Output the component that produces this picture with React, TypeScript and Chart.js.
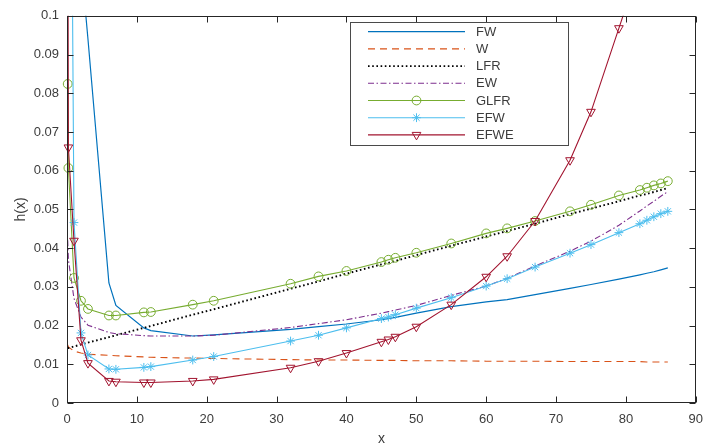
import React, { useEffect, useRef } from "react";
import { Chart, registerables } from "chart.js";

Chart.register(...registerables);

// ---- data ----
const xValues = [0.1, 0.2, 1, 2, 3, 6, 7, 11, 12, 18, 21, 32, 36, 40, 45, 46, 47, 50, 55, 60, 63, 67, 72, 75, 79, 82, 83, 84, 85, 86];

const fwValues = [0.8, 0.5, 0.2, 0.114, 0.094, 0.031, 0.0252, 0.0194, 0.0187, 0.0173, 0.0176, 0.019, 0.0197, 0.0204, 0.0215, 0.0218, 0.0221, 0.0232, 0.0249, 0.0261, 0.0267, 0.028, 0.0296, 0.0306, 0.032, 0.0331, 0.0335, 0.0339, 0.0344, 0.0349];

const wValues = [0.015, 0.0145, 0.0134, 0.0129, 0.0126, 0.0123, 0.0122, 0.0119, 0.0118, 0.0116, 0.0115, 0.0112, 0.0111, 0.0111, 0.011, 0.011, 0.011, 0.0109, 0.0109, 0.0108, 0.0108, 0.0108, 0.0107, 0.0107, 0.0107, 0.0107, 0.0106, 0.0106, 0.0106, 0.0106];

const lfrValues = [0.0142, 0.0142, 0.0146, 0.0151, 0.0156, 0.017, 0.0175, 0.0194, 0.0199, 0.0228, 0.0242, 0.0295, 0.0314, 0.0334, 0.0358, 0.0362, 0.0367, 0.0382, 0.0406, 0.043, 0.0444, 0.0463, 0.0488, 0.0502, 0.0521, 0.0536, 0.054, 0.0545, 0.055, 0.0555];

const ewValues = [0.042, 0.037, 0.027, 0.0222, 0.0201, 0.0182, 0.0179, 0.0174, 0.0173, 0.0173, 0.0175, 0.0195, 0.0205, 0.0215, 0.0232, 0.0236, 0.024, 0.0252, 0.0278, 0.0302, 0.0322, 0.0354, 0.0392, 0.0418, 0.0459, 0.0496, 0.0509, 0.0521, 0.0534, 0.0546];

const glfrValues = [0.0824, 0.0607, 0.0323, 0.0264, 0.0243, 0.0226, 0.0226, 0.0234, 0.0235, 0.0254, 0.0264, 0.0308, 0.0327, 0.0341, 0.0364, 0.037, 0.0375, 0.0388, 0.0412, 0.0438, 0.0451, 0.047, 0.0495, 0.0512, 0.0536, 0.055, 0.0556, 0.0562, 0.0567, 0.0573];

const efwValues = [0.4, 0.26, 0.0466, 0.0181, 0.0124, 0.0088, 0.0087, 0.0092, 0.0094, 0.0111, 0.012, 0.016, 0.0175, 0.0194, 0.0218, 0.0222, 0.0228, 0.0245, 0.0272, 0.0302, 0.0321, 0.0351, 0.0387, 0.0409, 0.044, 0.0463, 0.0472, 0.0481, 0.0489, 0.0495];

const efweValues = [0.15, 0.066, 0.0419, 0.0162, 0.0103, 0.0057, 0.0055, 0.0053, 0.0053, 0.0057, 0.0061, 0.0091, 0.0108, 0.0129, 0.0158, 0.0164, 0.0171, 0.0197, 0.0254, 0.0326, 0.0379, 0.047, 0.0627, 0.0752, 0.0968, 0.113, 0.12, 0.128, 0.136, 0.145];

const seriesLabels = ["FW", "W", "LFR", "EW", "GLFR", "EFW", "EFWE"];

const xTicks = [0, 10, 20, 30, 40, 50, 60, 70, 80, 90];
const yTicks = [0, 0.01, 0.02, 0.03, 0.04, 0.05, 0.06, 0.07, 0.08, 0.09, 0.1];

const xTitle = "x";
const yTitle = "h(x)";

// ---- styling ----
const FONT = "'Liberation Sans', Arial, Helvetica, sans-serif";
const AXIS_COLOR = "#262626";
const TEXT_COLOR = "#3c3c3c";

type Style = {
  color: string;
  dash: number[];
  width: number;
  marker: false | "circle" | "star" | "triangle";
  radius: number;
};

const styles: Style[] = [
  { color: "#0072BD", dash: [], width: 1.2, marker: false, radius: 0 },
  { color: "#D95319", dash: [7, 5], width: 1.1, marker: false, radius: 0 },
  { color: "#000000", dash: [1.6, 2.6], width: 1.9, marker: false, radius: 0 },
  { color: "#7E2F8E", dash: [6, 2.5, 1.5, 2.5], width: 1.1, marker: false, radius: 0 },
  { color: "#77AC30", dash: [], width: 1.1, marker: "circle", radius: 4.4 },
  { color: "#4DBEEE", dash: [], width: 1.1, marker: "star", radius: 4.4 },
  { color: "#A2142F", dash: [], width: 1.1, marker: "triangle", radius: 5 },
];

const allValues = [fwValues, wValues, lfrValues, ewValues, glfrValues, efwValues, efweValues];

function drawMarker(ctx: CanvasRenderingContext2D, style: string, x: number, y: number, r: number) {
  ctx.beginPath();
  if (style === "circle") {
    ctx.arc(x, y, r, 0, Math.PI * 2);
  } else if (style === "triangle") {
    let rad = Math.PI;
    ctx.moveTo(x + Math.sin(rad) * r, y - Math.cos(rad) * r);
    rad += (2 * Math.PI) / 3;
    ctx.lineTo(x + Math.sin(rad) * r, y - Math.cos(rad) * r);
    rad += (2 * Math.PI) / 3;
    ctx.lineTo(x + Math.sin(rad) * r, y - Math.cos(rad) * r);
    ctx.closePath();
  } else if (style === "star") {
    for (let k = 0; k < 4; k++) {
      const a = (k * Math.PI) / 4;
      ctx.moveTo(x - Math.cos(a) * r, y - Math.sin(a) * r);
      ctx.lineTo(x + Math.cos(a) * r, y + Math.sin(a) * r);
    }
  }
  ctx.stroke();
}

const framePlugin = {
  id: "matlabFrame",
  afterDatasetsDraw(chart: any) {
    const { ctx, chartArea: a, scales } = chart;
    ctx.save();
    ctx.strokeStyle = AXIS_COLOR;
    ctx.lineWidth = 1;
    ctx.setLineDash([]);
    const L = Math.round(a.left) + 0.5;
    const R = Math.round(a.right) - 0.5;
    const T = Math.round(a.top) + 0.5;
    const B = Math.round(a.bottom) - 0.5;
    ctx.beginPath();
    for (const v of xTicks) {
      const px = Math.round(scales.x.getPixelForValue(v)) + 0.5;
      ctx.moveTo(px, B);
      ctx.lineTo(px, B - 6);
      ctx.moveTo(px, T);
      ctx.lineTo(px, T + 6);
    }
    for (const v of yTicks) {
      const py = Math.round(scales.y.getPixelForValue(v)) + 0.5;
      ctx.moveTo(L, py);
      ctx.lineTo(L + 6, py);
      ctx.moveTo(R, py);
      ctx.lineTo(R - 6, py);
    }
    ctx.stroke();
    ctx.strokeRect(L, T, R - L, B - T);

    // legend
    const bx = 350.5, by = 22.5, bw = 218, bh = 123;
    ctx.fillStyle = "#ffffff";
    ctx.fillRect(bx, by, bw, bh);
    ctx.strokeStyle = "#4a4a4a";
    ctx.lineWidth = 1;
    ctx.strokeRect(bx, by, bw, bh);
    ctx.font = `13px ${FONT}`;
    ctx.textBaseline = "middle";
    ctx.textAlign = "left";
    chart.data.datasets.forEach((ds: any, i: number) => {
      const y = 31.7 + i * 17.2;
      const st = styles[i];
      ctx.strokeStyle = st.color;
      ctx.lineWidth = st.width;
      ctx.setLineDash(st.dash);
      ctx.beginPath();
      ctx.moveTo(368, y);
      ctx.lineTo(465, y);
      ctx.stroke();
      ctx.setLineDash([]);
      if (st.marker) {
        ctx.lineWidth = 1;
        drawMarker(ctx, st.marker, 416.5, y, st.radius);
      }
      ctx.fillStyle = TEXT_COLOR;
      ctx.fillText(ds.label, 476, y + 0.5);
    });
    ctx.restore();
  },
};

export default function App() {
  const canvasRef = useRef<HTMLCanvasElement | null>(null);

  useEffect(() => {
    if (!canvasRef.current) return;
    const datasets = seriesLabels.map((label, i) => {
      const st = styles[i];
      return {
        label,
        data: xValues.map((x, k) => ({ x, y: allValues[i][k] })),
        borderColor: st.color,
        backgroundColor: st.color,
        borderWidth: st.width,
        borderDash: st.dash,
        pointStyle: st.marker || "circle",
        pointRadius: st.marker ? st.radius : 0,
        pointRotation: st.marker === "triangle" ? 180 : 0,
        pointBorderColor: st.color,
        pointBackgroundColor: "rgba(255,255,255,0)",
        pointBorderWidth: 1,
        tension: 0,
        fill: false,
        order: seriesLabels.length - i,
        clip: { left: 10, right: 10, bottom: 10, top: 0 },
      };
    });

    const chart = new Chart(canvasRef.current, {
      type: "line",
      data: { datasets },
      options: {
        responsive: false,
        animation: false,
        events: [],
        layout: { padding: { top: 10, right: 10, left: 0, bottom: 0 } },
        plugins: {
          legend: { display: false },
          tooltip: { enabled: false },
        },
        scales: {
          x: {
            type: "linear",
            min: 0,
            max: 90,
            afterBuildTicks: (scale: any) => {
              scale.ticks = xTicks.map((v) => ({ value: v }));
            },
            afterFit: (scale: any) => {
              scale.height = 45;
            },
            grid: { display: false, drawTicks: false },
            border: { display: false },
            ticks: {
              padding: 9,
              color: TEXT_COLOR,
              font: { family: FONT, size: 13 },
              autoSkip: false,
              maxRotation: 0,
              callback: (v: any) => String(v),
            },
            title: {
              display: true,
              text: xTitle,
              color: TEXT_COLOR,
              font: { family: FONT, size: 14 },
              padding: { top: 0, bottom: 0 },
            },
          },
          y: {
            type: "linear",
            min: 0,
            max: 0.1,
            afterBuildTicks: (scale: any) => {
              scale.ticks = yTicks.map((v) => ({ value: v }));
            },
            afterFit: (scale: any) => {
              scale.width = 67;
            },
            grid: { display: false, drawTicks: false },
            border: { display: false },
            ticks: {
              padding: 8,
              color: TEXT_COLOR,
              font: { family: FONT, size: 13 },
              autoSkip: false,
              callback: (v: any) => String(+Number(v).toFixed(2)),
            },
            title: {
              display: true,
              text: yTitle,
              color: TEXT_COLOR,
              font: { family: FONT, size: 14 },
              padding: { top: 13, bottom: 0 },
            },
          },
        },
      },
      plugins: [framePlugin],
    } as any);
    return () => chart.destroy();
  }, []);

  return (
    <div style={{ position: "absolute", left: 0, top: 0, width: 712, height: 448, background: "#ffffff" }}>
      <canvas ref={canvasRef} width={712} height={448} style={{ display: "block", width: 712, height: 448 }} />
    </div>
  );
}
